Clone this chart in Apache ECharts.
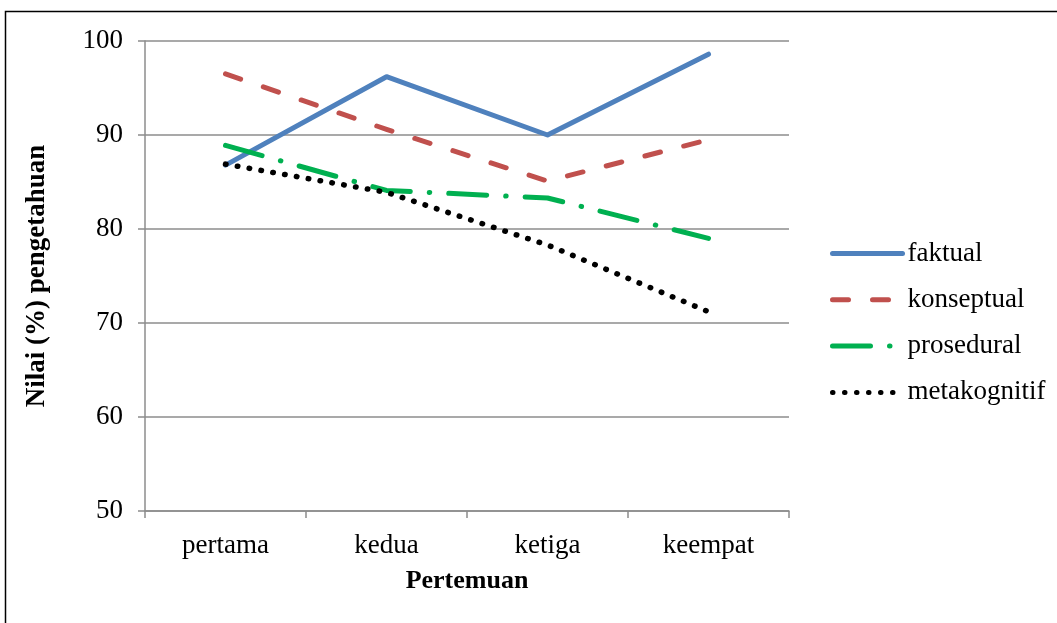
<!DOCTYPE html>
<html>
<head>
<meta charset="utf-8">
<script src="https://cdn.jsdelivr.net/npm/echarts@6/dist/echarts.min.js"></script>
<style>
  html, body { margin: 0; padding: 0; background: #ffffff; }
  #chart { width: 1057px; height: 623px; }
</style>
</head>
<body>
<div id="chart"></div>
<script>
// Meetings on the x axis
const categories = ['pertama', 'kedua', 'ketiga', 'keempat'];

// Knowledge scores (%) per dimension
const faktual      = [86.8, 96.2, 90.0, 98.6];
const konseptual   = [96.5, 90.6, 85.1, 89.5];
const prosedural   = [88.9, 84.1, 83.3, 79.0];
const metakognitif = [86.9, 83.9, 78.3, 71.2];

// Value axis ticks
const yTicks = [50, 60, 70, 80, 90, 100];

const serif = '"Liberation Serif", "Times New Roman", serif';
const gridGray = '#8c8c8c';

function lineSeries(name, data, color, width, dash) {
  const style = {
    color: color,
    width: width,
    type: dash,
    cap: 'round',
    join: 'round'
  };
  return {
    name: name,
    type: 'line',
    data: data,
    symbol: 'none',
    smooth: false,
    lineStyle: style,
    itemStyle: { color: color },
    emphasis: { disabled: true }
  };
}

const chart = echarts.init(document.getElementById('chart'), null, { renderer: 'canvas' });

chart.setOption({
  animation: false,
  backgroundColor: '#ffffff',
  grid: { left: 145, right: 268, top: 41, bottom: 112 },
  xAxis: {
    type: 'category',
    data: categories,
    boundaryGap: true,
    name: 'Pertemuan',
    nameLocation: 'middle',
    nameGap: 57,
    nameTextStyle: { fontFamily: serif, fontSize: 26, fontWeight: 'bold', color: '#000' },
    axisLine: { lineStyle: { color: gridGray, width: 1.5 } },
    axisTick: { show: true, length: 7, lineStyle: { color: gridGray, width: 1.5 } },
    axisLabel: { fontFamily: serif, fontSize: 27, color: '#000', margin: 21 },
    splitLine: { show: false }
  },
  yAxis: {
    type: 'value',
    min: yTicks[0],
    max: yTicks[yTicks.length - 1],
    interval: 10,
    name: 'Nilai (%) pengetahuan',
    nameLocation: 'middle',
    nameGap: 94,
    nameTextStyle: { fontFamily: serif, fontSize: 27, fontWeight: 'bold', color: '#000' },
    axisLine: { show: true, lineStyle: { color: gridGray, width: 1.5 } },
    axisTick: { show: true, length: 7, lineStyle: { color: gridGray, width: 1.5 } },
    axisLabel: { fontFamily: serif, fontSize: 27, color: '#000', margin: 22 },
    splitLine: { show: true, lineStyle: { color: gridGray, width: 1.5 } }
  },
  legend: {
    orient: 'vertical',
    left: 830,
    top: 240,
    padding: 0,
    itemWidth: 70,
    itemHeight: 26,
    itemGap: 19.3,
    itemStyle: { opacity: 0 },
    lineStyle: { width: 5, cap: 'round' },
    textStyle: { fontFamily: serif, fontSize: 27, color: '#000' },
    data: ['faktual', 'konseptual', 'prosedural', 'metakognitif']
  },
  series: [
    lineSeries('faktual', faktual, '#4f81bd', 5, 'solid'),
    lineSeries('konseptual', konseptual, '#c0504d', 5, [16, 24]),
    lineSeries('prosedural', prosedural, '#00b050', 5, [38, 19, 0.5, 19]),
    lineSeries('metakognitif', metakognitif, '#000000', 5.5, [0.5, 11.5])
  ],
  graphic: [{
    type: 'rect',
    silent: true,
    shape: { x: 5.5, y: 11.5, width: 1200, height: 800 },
    style: { fill: 'none', stroke: '#000', lineWidth: 1.5 }
  }]
});
</script>
</body>
</html>
